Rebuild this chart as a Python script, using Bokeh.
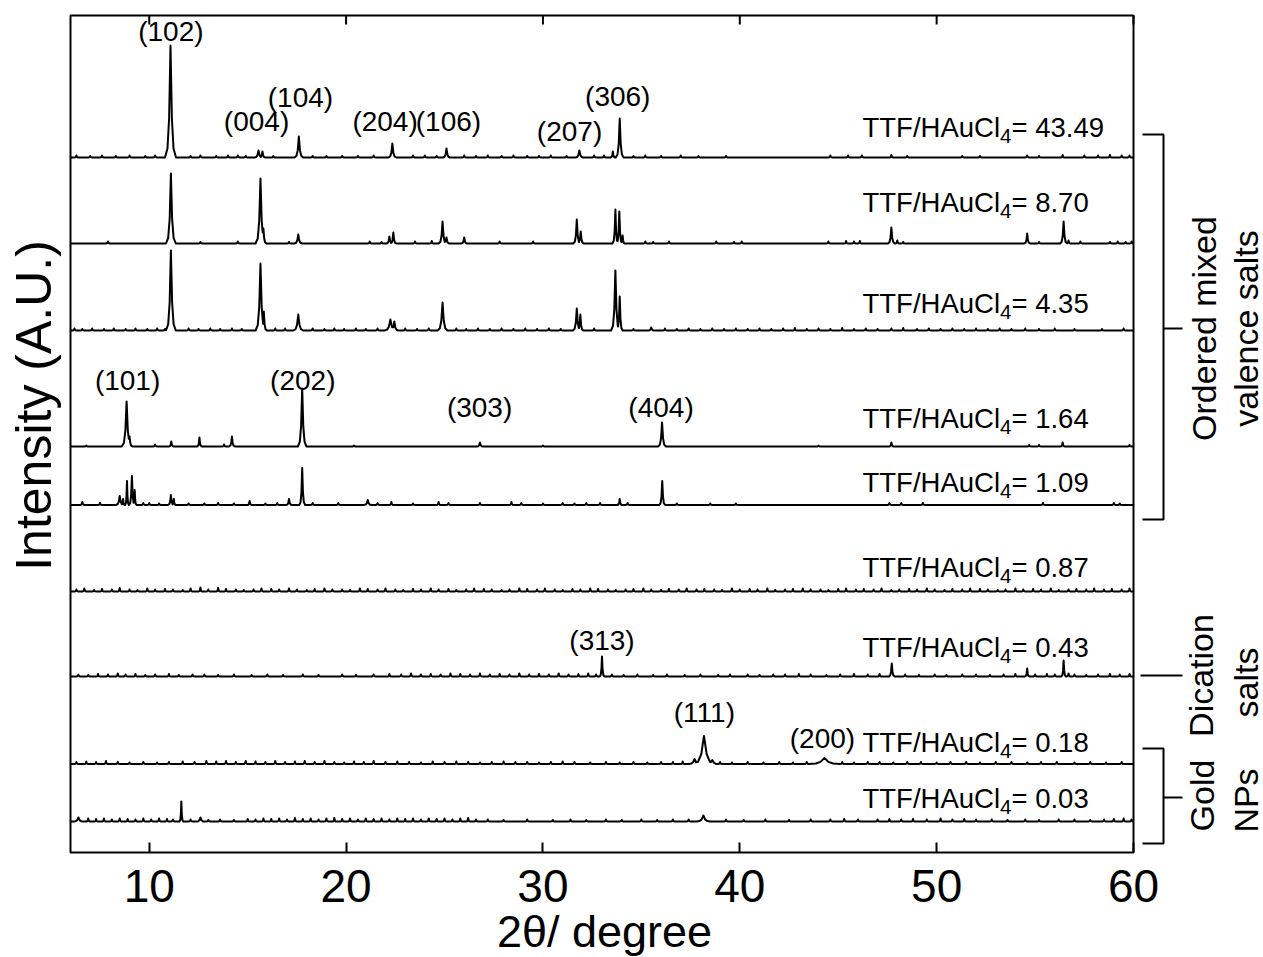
import numpy as np
from math import pi
from bokeh.plotting import figure
from bokeh.models import Range1d, LinearAxis, FixedTicker, BoxAnnotation, ColumnDataSource
from bokeh.core.properties import value
from bokeh.embed import file_html
from bokeh.resources import INLINE

# ------------------------------------------------------------------ data
ratios = ["43.49", "8.70", "4.35", "1.64", "1.09", "0.87", "0.43", "0.18", "0.03"]
stack_offsets = [695, 609, 522, 406, 347.5, 261, 176, 88.5, 31]
x_ticks = [10, 20, 30, 40, 50, 60]

# peaks: (2theta, height, half-width); noise bumps: (2theta, height)
p4349 = [(11.08, 112, .28), (15.55, 7, .2), (15.75, 6, .15), (17.60, 21, .22), (22.35, 14, .2),
         (25.10, 9, .18), (31.85, 7, .2), (33.55, 6, .12), (33.90, 39, .2)]
n4349 = [(6.3, 2), (7.0, 1.5), (7.6, 2), (8.3, 1.5), (9.0, 2), (9.8, 1.5), (10.3, 2), (12.1, 1.5),
         (12.6, 2), (13.4, 1.5), (14.0, 2), (14.5, 2), (14.9, 1.5), (16.3, 1.5), (18.3, 1.5), (19.0, 1.5),
         (19.8, 1.5), (20.6, 1.5), (21.4, 2), (23.4, 2), (24.0, 2), (24.6, 1.5), (26.0, 2), (26.6, 1.5),
         (27.2, 2), (27.9, 1.5), (28.5, 2), (29.2, 1.5), (29.8, 1.5), (30.4, 2), (31.2, 1.5), (32.6, 2),
         (33.1, 2), (34.6, 1.5), (35.2, 2), (36.0, 1.5), (37.0, 2), (37.9, 1.5), (39.3, 1.5), (44.6, 2),
         (45.5, 2), (46.2, 2), (47.7, 2.5), (48.5, 1.5), (51.3, 1.5), (52.2, 1.5), (54.6, 2), (55.2, 1.5),
         (56.4, 2.5), (57.5, 2), (58.2, 2), (58.8, 2.5), (59.4, 2), (59.8, 2)]

p870 = [(11.10, 70, .25), (15.65, 65, .25), (15.80, 15, .15), (17.57, 9, .2), (22.20, 7, .15),
        (22.40, 11, .15), (24.90, 22, .2), (25.10, 6, .15), (26.00, 6, .15), (31.72, 24, .18),
        (31.92, 12, .15), (33.68, 34, .15), (33.88, 32, .15), (34.05, 8, .1), (47.70, 16, .18),
        (48.00, 3, .1), (54.60, 10, .15), (56.45, 22, .18), (56.70, 3, .1)]
n870 = [(7.9, 2), (12.6, 1.5), (14.5, 2), (17.1, 1.5), (21.2, 2), (21.8, 1.5), (23.5, 2), (24.35, 2.5),
        (27.8, 2), (29.5, 2), (35.2, 2), (35.6, 1.5), (36.4, 2), (38.8, 2), (39.7, 1.5), (40.1, 2),
        (44.5, 2), (45.4, 2.5), (45.8, 2), (46.1, 2.5), (48.3, 1.5), (55.2, 1.5), (57.3, 2), (58.8, 1.5),
        (59.2, 2), (59.6, 1.5), (59.9, 2)]

p435 = [(11.10, 80, .25), (15.65, 67, .25), (15.82, 19, .15), (17.57, 16, .25), (22.25, 11, .3),
        (22.45, 9, .2), (24.90, 28, .25), (31.72, 22, .2), (31.90, 16, .15), (33.68, 60, .22),
        (33.90, 34, .15), (35.50, 3, .15)]
n435 = [(6.2, 2), (6.6, 1.5), (7.1, 2), (7.7, 1.5), (8.2, 2), (8.8, 1.5), (9.3, 2), (9.9, 1.5), (10.4, 2),
        (10.8, 1.5), (12.0, 2), (12.5, 1.5), (13.1, 2), (13.6, 1.5), (14.2, 2), (14.7, 1.5), (16.4, 2),
        (16.9, 2), (18.3, 2), (18.9, 1.5), (19.4, 2), (19.9, 1.5), (20.5, 2), (21.0, 1.5), (21.6, 2),
        (23.0, 2), (23.6, 1.5), (24.2, 2), (25.6, 2), (26.1, 1.5), (26.7, 2), (27.3, 1.5), (27.9, 2),
        (28.5, 1.5), (29.1, 2), (29.7, 1.5), (30.3, 2), (30.9, 1.5), (32.6, 2), (34.6, 1.5), (36.2, 2),
        (36.8, 1.5), (37.4, 2), (38.0, 1.5), (38.6, 2), (39.2, 1.5), (39.8, 2), (40.4, 1.5), (41.0, 2),
        (41.6, 1.5), (42.2, 2), (42.8, 2.5), (43.4, 1.5), (44.0, 2), (44.6, 1.5), (45.2, 2.5), (45.8, 1.5),
        (46.4, 2), (47.0, 1.5), (47.7, 2), (48.3, 2.5), (49.0, 1.5), (49.6, 2), (50.2, 1.5), (50.8, 2),
        (51.4, 1.5), (52.0, 2), (52.6, 1.5), (53.2, 2), (53.8, 1.5), (54.5, 2), (55.2, 1.5), (56.0, 2),
        (57.0, 1.5), (58.4, 1.5), (59.5, 2)]

p164 = [(8.85, 45, .25), (9.00, 10, .15), (10.30, 2, .1), (11.12, 5, .12), (12.55, 9, .12),
        (13.80, 2, .1), (14.20, 10, .15), (17.77, 58, .22), (26.80, 4, .15), (36.05, 24, .2),
        (47.70, 4, .12), (54.70, 1.5, .1), (55.20, 1.5, .1), (56.40, 4, .12), (59.80, 1.5, .1)]
n164 = [(6.8, 1), (20.4, 1), (30.0, 1), (44.0, 1)]

p109 = [(6.6, 3, .12), (7.5, 2, .1), (8.5, 9, .2), (8.67, 6, .1), (8.87, 24, .1), (9.12, 29, .15),
        (9.26, 15, .1), (9.7, 2, .1), (10.0, 2, .1), (10.5, 1.5, .1), (11.10, 10, .15), (11.25, 6, .1),
        (12.0, 1.5, .1), (12.8, 1.5, .1), (13.5, 2, .1), (14.3, 1.5, .1), (15.1, 4, .12), (15.9, 1.5, .1),
        (16.5, 2, .1), (17.1, 6, .15), (17.77, 37, .15), (18.3, 2, .1), (19.6, 2, .1), (21.1, 5, .2),
        (21.6, 2, .1), (22.3, 3, .1), (23.4, 1.5, .1), (24.7, 3, .1), (25.2, 2, .1), (26.8, 2, .1),
        (28.4, 3, .1), (28.9, 2, .1), (30.0, 1.5, .1), (31.0, 2, .1), (31.6, 1.5, .1), (32.2, 2, .1),
        (32.9, 2, .1), (33.9, 6, .12), (34.3, 2, .1), (36.06, 24, .15), (36.8, 1.5, .1), (38.5, 1.5, .1),
        (39.8, 1.5, .1), (47.6, 2, .1), (48.2, 2, .1), (49.3, 2, .1), (55.4, 2, .1), (59.0, 2, .1),
        (59.3, 1.5, .1)]
n109 = []

p087 = []
n087 = [(6.3, 2), (6.7, 3), (7.2, 1.5), (7.6, 2.5), (8.1, 2), (8.5, 3.5), (9.0, 2), (9.4, 1.5), (9.9, 3),
        (10.3, 2), (10.8, 2.5), (11.2, 2), (11.7, 1.5), (12.1, 3), (12.6, 4), (13.0, 2), (13.5, 3.5),
        (13.9, 2.5), (14.4, 2), (14.8, 1.5), (15.3, 2), (15.7, 3), (16.2, 2.5), (16.6, 2), (17.1, 3),
        (17.5, 2), (18.0, 1.5), (18.4, 2.5), (18.9, 3), (19.3, 2), (19.8, 2), (20.2, 1.5), (20.7, 3),
        (21.1, 2.5), (21.6, 2), (22.0, 3), (22.5, 2), (22.9, 1.5), (23.4, 2.5), (23.8, 2), (24.3, 3),
        (24.7, 2), (25.2, 2.5), (25.6, 1.5), (26.1, 2), (26.5, 3), (27.0, 2.5), (27.4, 2), (27.9, 1.5),
        (28.3, 2), (28.8, 3), (29.2, 2.5), (29.7, 2), (30.1, 3), (30.6, 2), (31.0, 1.5), (31.5, 2.5),
        (31.9, 2), (32.4, 3), (32.8, 2.5), (33.3, 2), (33.7, 1.5), (34.2, 2), (34.6, 2.5), (35.1, 3),
        (35.5, 2), (36.0, 1.5), (36.4, 2.5), (36.9, 2), (37.3, 3), (37.8, 2), (38.2, 2.5), (38.7, 2),
        (39.1, 1.5), (39.6, 3), (40.0, 2), (40.5, 2.5), (40.9, 2), (41.4, 3), (41.8, 1.5), (42.3, 2),
        (42.7, 2.5), (43.2, 3), (43.6, 2), (44.1, 2), (44.5, 1.5), (45.0, 2.5), (45.4, 3), (45.9, 2),
        (46.3, 2.5), (46.8, 2), (47.2, 3), (47.7, 1.5), (48.1, 2), (48.6, 2.5), (49.0, 2), (49.5, 3),
        (49.9, 2), (50.4, 1.5), (50.8, 2.5), (51.3, 2), (51.7, 3), (52.2, 2.5), (52.6, 2), (53.1, 1.5),
        (53.5, 2), (54.0, 3), (54.4, 2), (54.9, 2.5), (55.3, 2), (55.8, 3), (56.2, 1.5), (56.7, 2),
        (57.1, 2.5), (57.6, 2), (58.0, 3), (58.5, 2), (58.9, 2.5), (59.4, 2), (59.8, 3)]

p043 = [(33.00, 20, .12), (47.72, 13, .15), (54.60, 8, .12), (56.45, 16, .12), (56.70, 3, .1)]
n043 = [(6.4, 2), (6.9, 1.5), (7.4, 2.5), (7.9, 2), (8.4, 3), (8.8, 2), (9.3, 2.5), (9.8, 1.5), (10.3, 2),
        (11.0, 2.5), (11.5, 1.5), (12.2, 2), (12.8, 2), (13.5, 1.5), (14.3, 2), (15.2, 1.5), (16.0, 2),
        (16.8, 1.5), (17.8, 2), (18.6, 1.5), (19.8, 2), (20.5, 1.5), (21.4, 2), (22.2, 2.5), (22.8, 2),
        (23.3, 3), (23.8, 2), (24.3, 2.5), (24.8, 2), (25.3, 3), (25.8, 2.5), (26.3, 2), (26.8, 3),
        (27.3, 2), (27.8, 2.5), (28.3, 2), (28.8, 3), (29.3, 2), (29.8, 2.5), (30.3, 2), (30.8, 3),
        (31.3, 2), (31.8, 2.5), (32.3, 3), (32.7, 2), (33.5, 2), (34.1, 1.5), (34.8, 2), (35.6, 1.5),
        (36.3, 2), (37.2, 1.5), (38.0, 2), (38.9, 1.5), (39.5, 2), (40.4, 2), (41.0, 1.5), (41.7, 2),
        (42.3, 2), (43.0, 2.5), (43.6, 2), (44.4, 1.5), (45.1, 2), (45.8, 2.5), (46.5, 2), (47.1, 2.5),
        (48.4, 2), (49.1, 1.5), (49.9, 2), (50.5, 1.5), (51.3, 2), (52.0, 2), (52.7, 1.5), (53.4, 2),
        (54.0, 2.5), (55.0, 2), (55.6, 2.5), (56.0, 2), (57.0, 2), (57.6, 1.5), (58.2, 2), (58.8, 2.5),
        (59.3, 2), (59.8, 2.5)]

p018 = [(37.70, 5, .3), (38.18, 28, .55), (38.60, 4, .3), (44.30, 6, .8)]
n018 = [(6.3, 2), (6.8, 2.5), (7.3, 2), (7.8, 3), (8.4, 2), (9.0, 1.5), (9.7, 2), (10.4, 1.5), (11.0, 2),
        (11.7, 2.5), (12.3, 2), (12.9, 3), (13.4, 2.5), (13.9, 3), (14.4, 2), (14.9, 3), (15.4, 2.5),
        (15.9, 2), (16.4, 3), (16.9, 2), (17.4, 2.5), (17.9, 3), (18.4, 2), (18.9, 3), (19.4, 2),
        (19.9, 1.5), (20.4, 2.5), (20.9, 2), (21.4, 3), (22.0, 2), (22.6, 2.5), (23.2, 2), (23.8, 1.5),
        (24.4, 2.5), (25.0, 2), (25.6, 2.5), (26.2, 2), (26.8, 1.5), (27.4, 2), (28.0, 2.5), (28.6, 2),
        (29.2, 2), (29.8, 1.5), (30.4, 2), (31.0, 2.5), (31.6, 2), (32.4, 1.5), (33.2, 2), (33.9, 1.5),
        (34.6, 2), (35.3, 1.5), (36.0, 2), (36.6, 2), (37.1, 2.5), (39.0, 2), (39.6, 1.5), (40.4, 2),
        (41.2, 1.5), (42.0, 2), (42.7, 1.5), (43.4, 2), (45.2, 2), (45.8, 1.5), (46.5, 2), (47.1, 2),
        (47.8, 1.5), (48.5, 2), (49.2, 2), (50.0, 1.5), (50.7, 2), (51.5, 2), (52.2, 1.5), (53.0, 2),
        (53.8, 2), (54.6, 1.5), (55.3, 2), (56.1, 2), (57.0, 1.5), (57.8, 2), (58.6, 1.5), (59.4, 2)]

p003 = [(6.40, 4, .25), (11.63, 20, .1), (12.60, 4, .2), (38.15, 6, .35)]
n003 = [(6.9, 3), (7.3, 2.5), (7.7, 3), (8.1, 2), (8.5, 3), (8.9, 2.5), (9.3, 2), (9.7, 3), (10.1, 2),
        (10.5, 3), (10.9, 2.5), (11.2, 2), (12.1, 2), (13.0, 1.5), (13.6, 2), (14.3, 1.5), (15.0, 2.5),
        (15.4, 2), (15.8, 3), (16.2, 2.5), (16.6, 3), (17.0, 2), (17.4, 3.5), (17.8, 2.5), (18.2, 3),
        (18.6, 2), (19.0, 3), (19.4, 3.5), (19.8, 2.5), (20.2, 3), (20.6, 2), (21.0, 3), (21.4, 2.5),
        (21.8, 3), (22.2, 2), (22.6, 3), (23.0, 2.5), (23.4, 3), (23.8, 2), (24.2, 3), (24.6, 2.5),
        (25.0, 3), (25.4, 2), (25.8, 3), (26.2, 3.5), (26.6, 2), (27.2, 2), (28.0, 1.5), (29.2, 2),
        (30.5, 1.5), (31.4, 2), (32.2, 1.5), (33.2, 2), (34.0, 1.5), (35.0, 2), (35.8, 1.5), (36.6, 2),
        (37.4, 2), (39.3, 2), (40.2, 1.5), (41.3, 2), (42.5, 1.5), (43.6, 2), (44.6, 2), (45.3, 2.5),
        (46.0, 2), (47.0, 2), (47.6, 2.5), (48.2, 2), (48.8, 2.5), (49.5, 2), (50.2, 3), (50.8, 2),
        (51.4, 2.5), (52.0, 2), (52.8, 2), (53.6, 1.5), (54.5, 2), (55.2, 1.5), (56.2, 2), (57.0, 2),
        (57.8, 1.5), (58.5, 2), (59.0, 2.5), (59.5, 3), (59.9, 2)]

patterns = [(p4349, n4349), (p870, n870), (p435, n435), (p164, n164), (p109, n109),
            (p087, n087), (p043, n043), (p018, n018), (p003, n003)]

peak_labels = ["(102)", "(004)", "(104)", "(204)", "(106)", "(207)", "(306)",
               "(101)", "(202)", "(303)", "(404)", "(313)", "(111)", "(200)"]
peak_label_x = [11.1, 15.45, 17.68, 21.98, 25.2, 31.35, 33.8, 8.9, 17.8, 26.78, 36.0, 33.0, 38.2, 44.2]

# ------------------------------------------------------------------ layout
W, H = 1263, 957
FL, FR_AXIS, FT, FB = 70, 1133, 15, 852          # axis box in px
PX = (FR_AXIS - FL) / 54.0                       # px per degree
YTOP = FB - FT


def dx(px):
    return 6 + (px - FL) / PX


def dy(py):
    return FB - py


SHAPE_X = np.array([-1, -0.55, -0.25, 0, 0.25, 0.55, 1])
SHAPE_Y = np.array([0, 0.08, 0.35, 1, 0.35, 0.08, 0])


def build(peaks, noise):
    items = list(peaks) + [(x, h, 0.1) for x, h in noise]
    curves, allx = [], [np.array([6.0, 60.0])]
    for c, h, w in items:
        vx = c + SHAPE_X * w
        curves.append((vx, SHAPE_Y * h))
        allx.append(vx)
    grid = np.unique(np.concatenate(allx))
    grid = grid[(grid >= 6) & (grid <= 60)]
    y = np.zeros_like(grid)
    for vx, vy in curves:
        y = np.maximum(y, np.interp(grid, vx, vy, left=0, right=0))
    return grid, y


# whole canvas is the frame; axes placed with fixed_location
p = figure(width=W, height=H, x_range=Range1d(dx(0), dx(W)), y_range=Range1d(dy(H), dy(0)),
           output_backend="svg", toolbar_location=None,
           x_axis_location=None, y_axis_location=None,
           min_border_left=0, min_border_right=0, min_border_top=0, min_border_bottom=0)
p.outline_line_color = None
p.background_fill_color = "white"
p.border_fill_color = "white"
p.grid.visible = False

FONT = "Liberation Sans"

xb = LinearAxis(ticker=FixedTicker(ticks=x_ticks), fixed_location=0, axis_line_color=None,
                major_tick_in=10, major_tick_out=0, major_tick_line_width=2,
                minor_tick_line_color=None, major_label_text_font=FONT,
                major_label_text_font_size="46px", major_label_standoff=17,
                major_label_text_color="black")
p.add_layout(xb, "below")

# top mirror ticks at the tick positions
p.segment(x0=x_ticks, y0=[YTOP] * len(x_ticks), x1=x_ticks, y1=[YTOP - 9] * len(x_ticks),
          line_color="black", line_width=2)

p.add_layout(BoxAnnotation(left=6, right=60, bottom=0, top=YTOP, fill_color=None, fill_alpha=0,
                           line_color="black", line_alpha=1.0, line_width=2))

for (pk, nz), off in zip(patterns, stack_offsets):
    gx, gy = build(pk, nz)
    p.line(gx, gy + off, line_color="black", line_width=2, line_join="round")

# peak labels
plabel_y_px = [31, 121, 97, 121, 121, 131, 96, 380, 380, 407, 407, 640, 712, 738]
src = ColumnDataSource(dict(x=peak_label_x, y=[dy(v) for v in plabel_y_px], t=peak_labels))
p.text(x="x", y="y", text="t", source=src, text_align="center", text_baseline="middle",
       text_font=value(FONT), text_font_size=value("28px"), text_color="black")

# sample labels TTF/HAuCl4 = r
FS = 27.5
base_px = [137.3, 212.3, 313.3, 428.3, 491.7, 576.7, 657.3, 751.7, 808.3]
lx = 862
adj = 0.36 * FS
ys = [dy(b - adj) for b in base_px]
p.text(x=[dx(lx)] * 9, y=ys, text=["TTF/HAuCl"] * 9, text_align="left", text_baseline="alphabetic",
       text_font=value(FONT), text_font_size=value(f"{FS}px"), text_color="black")
sub_fs = 0.75 * FS
ys_sub = [dy(b + 6 - 0.36 * sub_fs) for b in base_px]
p.text(x=[dx(lx + 5.0 * FS)] * 9, y=ys_sub, text=["4"] * 9, text_align="left",
       text_baseline="alphabetic", text_font=value(FONT), text_font_size=value(f"{sub_fs}px"),
       text_color="black")
p.text(x=[dx(lx + 5.0 * FS + 0.556 * sub_fs)] * 9, y=ys, text=["= " + r for r in ratios],
       text_align="left", text_baseline="alphabetic", text_font=value(FONT),
       text_font_size=value(f"{FS}px"), text_color="black")

# brackets
xi, xv, xo = dx(1142), dx(1163), dx(1182)
br_xs = [[xi, xv, xv, xi], [xv, xo], [dx(1140), xo], [xi, xv, xv, xi], [xv, xo]]
br_ys = [[dy(134), dy(134), dy(519), dy(519)], [dy(328), dy(328)], [dy(675), dy(675)],
         [dy(748), dy(748), dy(843), dy(843)], [dy(797), dy(797)]]
p.multi_line(br_xs, br_ys, line_color="black", line_width=2)

grp_text = ["Ordered mixed", "valence salts", "Dication", "salts", "Gold", "NPs"]
grp_x = [dx(1203), dx(1245), dx(1200), dx(1245), dx(1201), dx(1245)]
grp_y = [dy(328), dy(328), dy(675), dy(682), dy(795), dy(800)]
p.text(x=grp_x, y=grp_y, text=grp_text, angle=pi / 2, text_align="center", text_baseline="middle",
       text_font=value(FONT), text_font_size=value("34px"), text_color="black")

# axis titles
p.text(x=[dx(33)], y=[dy(405)], text=["Intensity (A.U.)"], angle=pi / 2, text_align="center",
       text_baseline="middle", text_font=value(FONT), text_font_size=value("50px"), text_color="black")
p.text(x=[dx(604)], y=[dy(931)], text=["2θ/ degree"], text_align="center",
       text_baseline="middle", text_font=value(FONT), text_font_size=value("45px"),
       text_color="black")

open("out.html", "w").write(file_html(p, INLINE))
